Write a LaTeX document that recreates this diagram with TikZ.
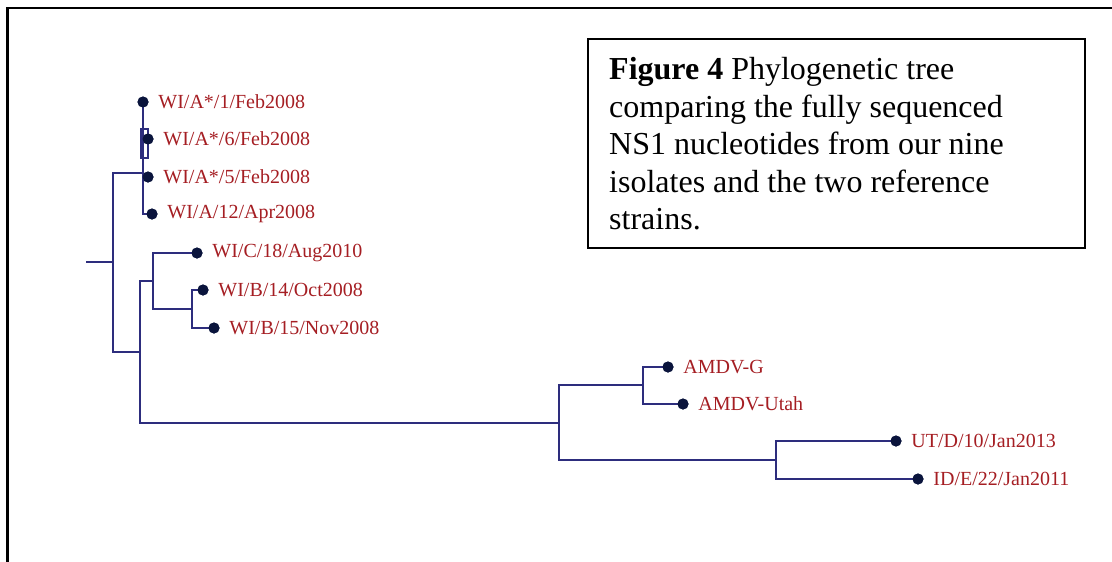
\documentclass[tikz,border=0pt]{standalone}
\usepackage{fontspec}
\setmainfont{Liberation Serif}
\definecolor{treeblue}{RGB}{45,45,125}
\definecolor{dotblue}{RGB}{10,20,60}
\definecolor{labred}{RGB}{165,30,35}
\tikzset{
  branch/.style={draw=treeblue, line width=1.5pt},
  leaf/.style={circle, fill=dotblue, minimum size=11pt, inner sep=0pt,
     label={[labred, font=\fontsize{20}{24}\selectfont, inner sep=0pt, label distance=9.5pt]right:#1}},
  frame/.style={draw=black, line width=2.2pt},
}
\begin{document}
\begin{tikzpicture}[x=1pt, y=-1pt]
\useasboundingbox (0,0) rectangle (1112,562);
% outer frame (left and top edges)
\coordinate (fb) at (7.5,562);
\coordinate (fc) at (7.5,8);
\coordinate (fr) at (1112,8);
\draw[frame, line cap=rect] (fb) -- (fc) -- (fr);
% caption box
\node[frame, draw, anchor=north west, minimum width=497pt, minimum height=209pt, inner sep=0pt] (cap) at (587,38) {};
\node[anchor=north west, inner sep=0pt, align=left, font=\fontsize{32}{37.5}\selectfont] (captext) at (609,57.5)
  {\textbf{Figure 4} Phylogenetic tree\\comparing the fully sequenced\\NS1 nucleotides from our nine\\isolates and the two reference\\strains.};
% internal nodes
\coordinate (r0) at (86,262);
\coordinate (r) at (113,262);
\coordinate (nA) at (143,173);
\coordinate (s1) at (141,129);
\coordinate (s2) at (148,158);
\coordinate (n2) at (140,352);
\coordinate (nCB) at (153,281);
\coordinate (nB) at (192,309);
\coordinate (nF) at (559,423);
\coordinate (nG) at (643,385);
\coordinate (nU) at (776,460);
% leaves
\node[leaf={WI/A*/1/Feb2008}] (d1) at (143,102) {};
\node[leaf={WI/A*/6/Feb2008}] (d2) at (148,139) {};
\node[leaf={WI/A*/5/Feb2008}] (d3) at (148,177) {};
\node[leaf={WI/A/12/Apr2008}] (d4) at (152,214) {};
\node[leaf={WI/C/18/Aug2010}] (dC) at (197,253) {};
\node[leaf={WI/B/14/Oct2008}] (dB14) at (203,290) {};
\node[leaf={WI/B/15/Nov2008}] (dB15) at (214,328) {};
\node[leaf={AMDV-G}] (dG) at (668,367) {};
\node[leaf={AMDV-Utah}] (dUtah) at (683,404) {};
\node[leaf={UT/D/10/Jan2013}] (dUT) at (896,441) {};
\node[leaf={ID/E/22/Jan2011}] (dID) at (918,479) {};
% branches
\draw[branch] (r0) -- (r);
\draw[branch] (r) |- (nA);
\draw[branch] (r) |- (n2);
\draw[branch] (d1.center) |- (d4.center);
\draw[branch] (nA) |- (d3.center);
\draw[branch] (s1) rectangle (s2);
\draw[branch] (n2) |- (nCB);
\draw[branch] (n2) |- (nF);
\draw[branch] (nCB) |- (dC.center);
\draw[branch] (nCB) |- (nB);
\draw[branch] (nB) |- (dB14.center);
\draw[branch] (nB) |- (dB15.center);
\draw[branch] (nF) |- (nG);
\draw[branch] (nF) |- (nU);
\draw[branch] (nG) |- (dG.center);
\draw[branch] (nG) |- (dUtah.center);
\draw[branch] (nU) |- (dUT.center);
\draw[branch] (nU) |- (dID.center);
% redraw dots on top
\foreach \d in {d1,d2,d3,d4,dC,dB14,dB15,dG,dUtah,dUT,dID}
  \fill[dotblue] (\d.center) circle (5.5pt);
\end{tikzpicture}
\end{document}
